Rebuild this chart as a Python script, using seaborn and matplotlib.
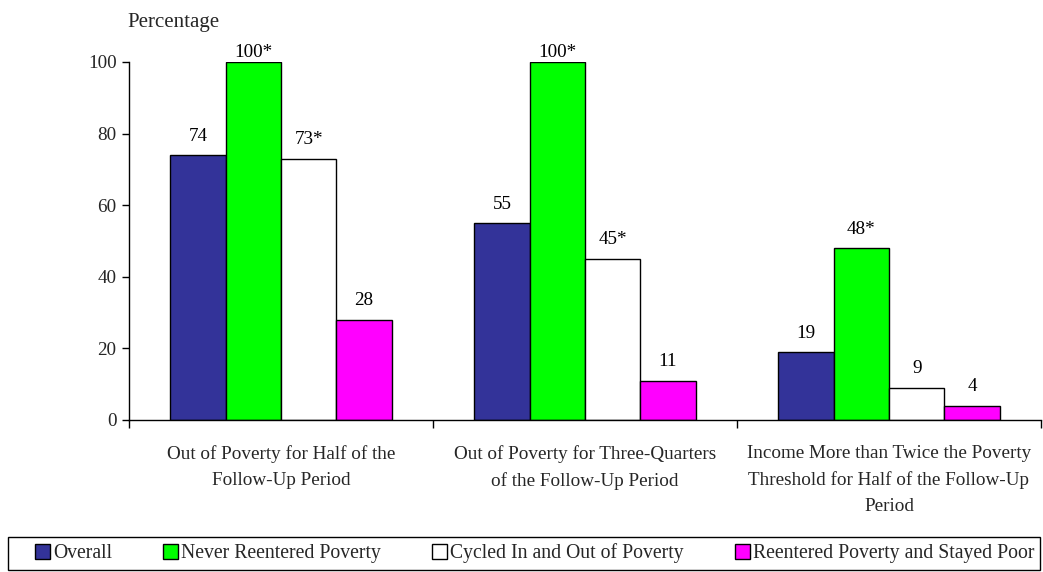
import matplotlib
matplotlib.use("Agg")
import matplotlib.pyplot as plt
import seaborn as sns
import pandas as pd
from matplotlib.patches import Rectangle, Patch

categories = [
    "Out of Poverty for Half of the\nFollow-Up Period",
    "Out of Poverty for Three-Quarters\nof the Follow-Up Period",
    "Income More than Twice the Poverty\nThreshold for Half of the Follow-Up\nPeriod",
]
series = ["Overall", "Never Reentered Poverty", "Cycled In and Out of Poverty",
          "Reentered Poverty and Stayed Poor"]
overall = [74, 55, 19]
never = [100, 100, 48]
cycled = [73, 45, 9]
stayed = [28, 11, 4]
overall_lbl = ["74", "55", "19"]
never_lbl = ["100*", "100*", "48*"]
cycled_lbl = ["73*", "45*", "9"]
stayed_lbl = ["28", "11", "4"]
colors = ["#333399", "#00FF00", "#FFFFFF", "#FF00FF"]
yticks = [0, 20, 40, 60, 80, 100]

values = [overall, never, cycled, stayed]
labels = [overall_lbl, never_lbl, cycled_lbl, stayed_lbl]

rows = []
for s, vals in zip(series, values):
    for c, v in zip(categories, vals):
        rows.append({"category": c, "series": s, "value": v})
df = pd.DataFrame(rows)

sns.set_style("white")
plt.rcParams["font.family"] = ["Liberation Serif", "DejaVu Serif"]
FS = 13.8

fig = plt.figure(figsize=(10.43, 5.72), dpi=100)
ax = fig.add_axes([129 / 1043, 1 - 420 / 572, (1041 - 129) / 1043, (420 - 62) / 572])

sns.barplot(data=df, x="category", y="value", hue="series", order=categories,
            hue_order=series, palette=colors, width=0.727, saturation=1,
            edgecolor="black", linewidth=1, ax=ax, legend=False)

for cont, lbl, vals in zip(ax.containers, labels, values):
    for bar, text, v in zip(cont, lbl, vals):
        pad = 1.0 if v >= 100 else 7.5
        ax.annotate(text, (bar.get_x() + bar.get_width() / 2, bar.get_height()),
                    xytext=(0, pad), textcoords="offset points", ha="center",
                    va="bottom", fontsize=FS, color="black", annotation_clip=False)

ax.set_ylim(0, 100)
ax.set_xlim(-0.5, 2.5)
ax.set_yticks(yticks)
ax.set_yticklabels([str(t) for t in yticks], fontsize=FS)
ax.set_xticks([-0.5, 0.5, 1.5, 2.5])
ax.set_xticklabels(["", "", "", ""])
ax.set_xticks([0, 1, 2], minor=True)
ax.set_xticklabels(categories, minor=True, fontsize=FS, linespacing=1.67, va="top")
ax.tick_params(axis="x", which="major", direction="out", length=6, width=1, color="black", bottom=True)
ax.tick_params(axis="x", which="minor", length=0, pad=18)
ax.tick_params(axis="y", direction="out", length=5, width=1, color="black", left=True, pad=4)
ax.set_xlabel("")
ax.set_ylabel("")
for sp in ["top", "right"]:
    ax.spines[sp].set_visible(False)
for sp in ["left", "bottom"]:
    ax.spines[sp].set_color("black")
    ax.spines[sp].set_linewidth(1)

fig.text(127 / 1043, 1 - 22 / 572, "Percentage", fontsize=15, ha="left", va="center")

# legend frame
fig.patches.append(Rectangle((8 / 1043, 1 - 570 / 572), (1040 - 8) / 1043, (570 - 537) / 572,
                             transform=fig.transFigure, fill=False, edgecolor="black",
                             linewidth=1))
handles = [Patch(facecolor=c, edgecolor="black", linewidth=1) for c in colors]
fig.legend(handles, series, loc="center left", bbox_to_anchor=(35 / 1043, 1 - 553.5 / 572),
           ncol=4, frameon=False, fontsize=14.2, handlelength=0.76, handleheight=0.76,
           handletextpad=0.15, columnspacing=2.6, borderaxespad=0, borderpad=0)

fig.savefig("out.png", dpi=100)
